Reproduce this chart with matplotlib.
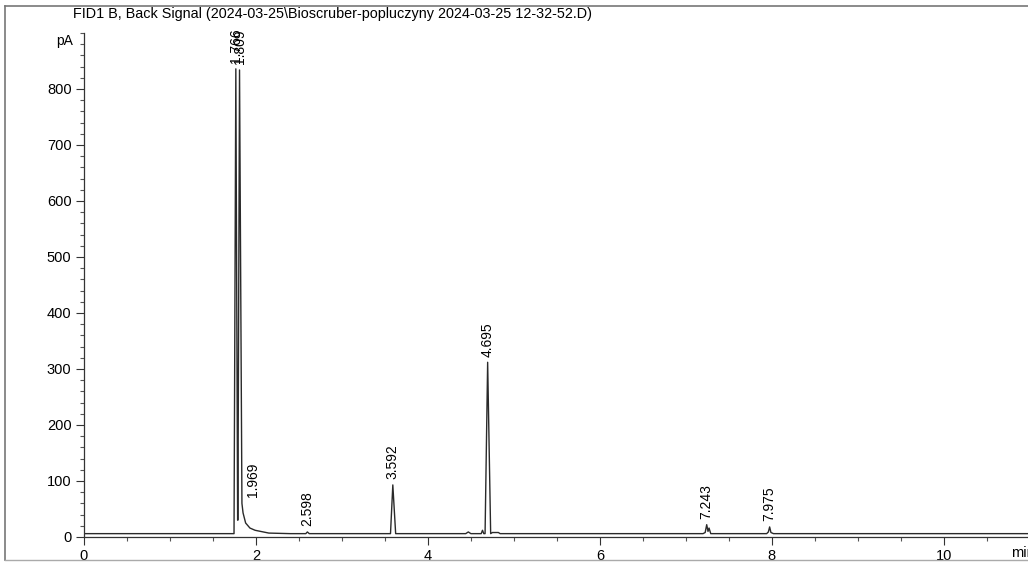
import numpy as np
import matplotlib
matplotlib.use("Agg")
import matplotlib.pyplot as plt
from matplotlib.lines import Line2D
from matplotlib.ticker import MultipleLocator

plt.rcParams['font.family'] = ['Liberation Sans', 'DejaVu Sans']
plt.rcParams['font.size'] = 10

title = "FID1 B, Back Signal (2024-03-25\\Bioscruber-popluczyny 2024-03-25 12-32-52.D)"

# trace (min, pA)
time_min = [0.0, 1.70, 1.745, 1.766, 1.787, 1.790, 1.809, 1.837, 1.85, 1.88, 1.93,
            1.99, 2.15, 2.40, 2.58, 2.598, 2.62, 3.00, 3.565, 3.592, 3.625, 3.70,
            4.44, 4.47, 4.50, 4.62, 4.635, 4.65, 4.665, 4.695, 4.73, 4.75, 4.82,
            4.84, 5.50, 7.20, 7.225, 7.243, 7.258, 7.27, 7.29, 7.94, 7.96, 7.975,
            7.99, 8.02, 10.98]
signal_pa = [6, 6, 6, 836, 30, 30, 834, 60, 43, 25, 16,
             12, 7, 6, 6, 9, 6, 6, 6, 93, 6, 6,
             6, 9, 6, 6, 12, 6, 6, 312, 6, 8, 8,
             6, 6, 6, 8, 22, 10, 16, 6, 6, 9, 18,
             8, 6, 6]

# peak label anchors (retention time, pA at the marker)
peak_rt = [1.766, 1.809, 1.969, 2.598, 3.592, 4.695, 7.243, 7.975]
peak_height = [836, 834, 62, 9, 93, 312, 22, 18]
peak_labels = ["1.766", "1.809", "1.969", "2.598", "3.592", "4.695", "7.243", "7.975"]

x_ticks = [0, 2, 4, 6, 8, 10]
y_ticks = [0, 100, 200, 300, 400, 500, 600, 700, 800]

fig = plt.figure(figsize=(10.28, 5.62), dpi=100)
W, H = 1028, 562
ax = fig.add_axes([84 / W, (H - 537) / H, (W - 84) / W, (537 - 33) / H])

ax.plot(time_min, signal_pa, color="#2a2a2a", lw=1.0)

for rt, h, lab in zip(peak_rt, peak_height, peak_labels):
    ax.annotate(lab, xy=(rt, h), xytext=(0, 4), textcoords="offset points",
                rotation=90, ha="center", va="bottom", fontsize=10)

ax.set_xlim(0, 10.98)
ax.set_ylim(0, 900)
ax.set_xticks(x_ticks)
ax.set_yticks(y_ticks)
ax.xaxis.set_minor_locator(MultipleLocator(0.5))
ax.yaxis.set_minor_locator(MultipleLocator(20))
ax.tick_params(which="major", direction="out", length=6, width=0.8, color="#333333",
               labelsize=10.5, pad=3)
ax.tick_params(which="minor", direction="out", length=3, width=0.8, color="#555555")

for s in ["top", "right"]:
    ax.spines[s].set_visible(False)
for s in ["left", "bottom"]:
    ax.spines[s].set_color("#333333")
    ax.spines[s].set_linewidth(0.9)

ax.text(-0.012, 0.984, "pA", transform=ax.transAxes, ha="right", va="center", fontsize=10)
fig.text(1011 / W, 1 - 553 / H, "min", ha="left", va="center", fontsize=10.5)
fig.text(73 / W, 1 - 14 / H, title, ha="left", va="center", fontsize=10.4)

# scan page border
fig.add_artist(Line2D([5 / W, 5 / W], [1 - 6 / H, 1 - 560 / H], color="#777777", lw=1.2))
fig.add_artist(Line2D([5 / W, 1.0], [1 - 6 / H, 1 - 6 / H], color="#777777", lw=1.2))
fig.add_artist(Line2D([5 / W, 1.0], [1 - 560 / H, 1 - 560 / H], color="#aaaaaa", lw=1.0))

fig.savefig("out.png", dpi=100)
